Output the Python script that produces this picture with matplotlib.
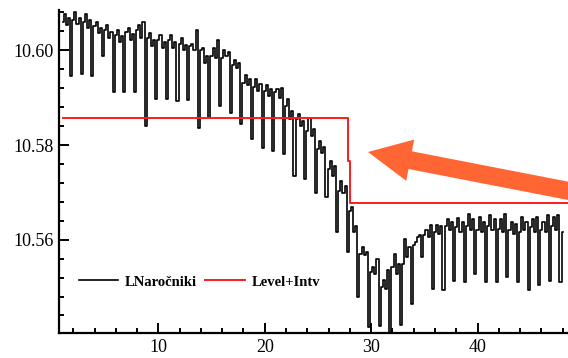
import numpy as np
import matplotlib
matplotlib.use("Agg")
import matplotlib.pyplot as plt  # noqa: E402
from matplotlib.patches import FancyArrow  # noqa: E402
from matplotlib.ticker import MultipleLocator, FormatStrFormatter  # noqa: E402
from matplotlib.transforms import IdentityTransform  # noqa: E402

# samples every 0.2 from 1.0 to 48.0, one row per unit of time
time = np.round(np.arange(1.0, 48.01, 0.2), 1)
narocniki = [
    10.6060, 10.6077, 10.6053, 10.6068, 10.5945,
    10.6064, 10.6081, 10.6055, 10.6068, 10.5949,
    10.6060, 10.6077, 10.6047, 10.6064, 10.5945,
    10.6051, 10.6060, 10.6036, 10.6047, 10.5989,
    10.6043, 10.6053, 10.6026, 10.6038, 10.5913,
    10.6032, 10.6043, 10.6017, 10.6030, 10.5913,
    10.6038, 10.6047, 10.6021, 10.6034, 10.5913,
    10.6043, 10.6053, 10.6026, 10.6060, 10.5840,
    10.6026, 10.6036, 10.6009, 10.6021, 10.5898,
    10.6021, 10.6032, 10.6006, 10.6017, 10.5898,
    10.6021, 10.6032, 10.6004, 10.6017, 10.5894,
    10.6013, 10.6026, 10.6000, 10.6011, 10.5896,
    10.6009, 10.6013, 10.6000, 10.6043, 10.5836,
    10.6000, 10.6004, 10.5974, 10.5989, 10.5857,
    10.5989, 10.6004, 10.5983, 10.6021, 10.5883,
    10.5983, 10.6000, 10.5987, 10.5996, 10.5868,
    10.5968, 10.5979, 10.5962, 10.5974, 10.5845,
    10.5932, 10.5947, 10.5926, 10.5940, 10.5813,
    10.5923, 10.5940, 10.5915, 10.5928, 10.5794,
    10.5915, 10.5926, 10.5904, 10.5919, 10.5787,
    10.5911, 10.5919, 10.5900, 10.5921, 10.5781,
    10.5883, 10.5898, 10.5855, 10.5872, 10.5734,
    10.5855, 10.5866, 10.5840, 10.5851, 10.5728,
    10.5830, 10.5857, 10.5819, 10.5834, 10.5698,
    10.5791, 10.5809, 10.5783, 10.5796, 10.5691,
    10.5749, 10.5766, 10.5734, 10.5755, 10.5617,
    10.5702, 10.5723, 10.5698, 10.5713, 10.5574,
    10.5660, 10.5670, 10.5617, 10.5628, 10.5479,
    10.5570, 10.5585, 10.5568, 10.5574, 10.5415,
    10.5532, 10.5543, 10.5528, 10.5560, 10.5417,
    10.5500, 10.5515, 10.5496, 10.5536, 10.5404,
    10.5543, 10.5570, 10.5528, 10.5549, 10.5419,
    10.5549, 10.5602, 10.5564, 10.5585, 10.5464,
    10.5589, 10.5596, 10.5606, 10.5611, 10.5564,
    10.5611, 10.5621, 10.5606, 10.5632, 10.5496,
    10.5617, 10.5632, 10.5613, 10.5628, 10.5494,
    10.5628, 10.5643, 10.5621, 10.5638, 10.5513,
    10.5626, 10.5645, 10.5617, 10.5638, 10.5511,
    10.5628, 10.5655, 10.5621, 10.5643, 10.5528,
    10.5621, 10.5649, 10.5617, 10.5638, 10.5511,
    10.5628, 10.5653, 10.5621, 10.5643, 10.5511,
    10.5623, 10.5643, 10.5617, 10.5655, 10.5521,
    10.5621, 10.5638, 10.5613, 10.5634, 10.5511,
    10.5617, 10.5649, 10.5621, 10.5638, 10.5494,
    10.5626, 10.5643, 10.5617, 10.5649, 10.5504,
    10.5621, 10.5638, 10.5617, 10.5653, 10.5513,
    10.5628, 10.5649, 10.5621, 10.5653, 10.5511,
    10.5617,
]

# level + intervention step
level_time = [1.0, 27.8, 28.0, 48.5]
level_value = [10.5858, 10.5766, 10.5678, 10.5678]

SERIF = "Liberation Serif"

fig = plt.figure(figsize=(5.68, 3.58), dpi=100)
ax = fig.add_axes([0.1044, 0.0698, 0.8956, 0.902])

ax.plot(time, narocniki, color="black", linewidth=1.2,
        drawstyle="steps-mid", label="LNaročniki")
ax.plot(level_time, level_value, color="#ff1a1a", linewidth=1.4,
        drawstyle="steps-post", label="Level+Intv")

ax.set_xlim(0.69, 48.5)
ax.set_ylim(10.5403, 10.6085)
ax.xaxis.set_major_locator(MultipleLocator(10))
ax.xaxis.set_minor_locator(MultipleLocator(2))
ax.yaxis.set_major_locator(MultipleLocator(0.02))
ax.yaxis.set_minor_locator(MultipleLocator(0.004))
ax.yaxis.set_major_formatter(FormatStrFormatter("%.2f"))

for side in ("top", "right"):
    ax.spines[side].set_visible(False)
for side in ("left", "bottom"):
    ax.spines[side].set_linewidth(1.6)

ax.tick_params(which="both", direction="in", width=1.4)
ax.tick_params(which="major", length=7, labelsize=13, pad=4)
ax.tick_params(which="minor", length=3.6)
for lab in ax.get_xticklabels() + ax.get_yticklabels():
    lab.set_family(SERIF)

ax.legend(loc="center left", bbox_to_anchor=(0.038, 0.158), ncol=2,
          frameon=False, borderpad=0, borderaxespad=0, handlelength=2.7,
          handletextpad=0.45, columnspacing=0.6,
          prop={"family": SERIF, "weight": "bold", "size": 10.5})

# orange annotation arrow, drawn in figure pixels
arrow = FancyArrow(600, 161, -232, 45, width=18, head_width=42,
                   head_length=43, length_includes_head=True,
                   color="#ff6633", linewidth=0, transform=IdentityTransform())
fig.add_artist(arrow)

fig.savefig("out.png", dpi=100)
